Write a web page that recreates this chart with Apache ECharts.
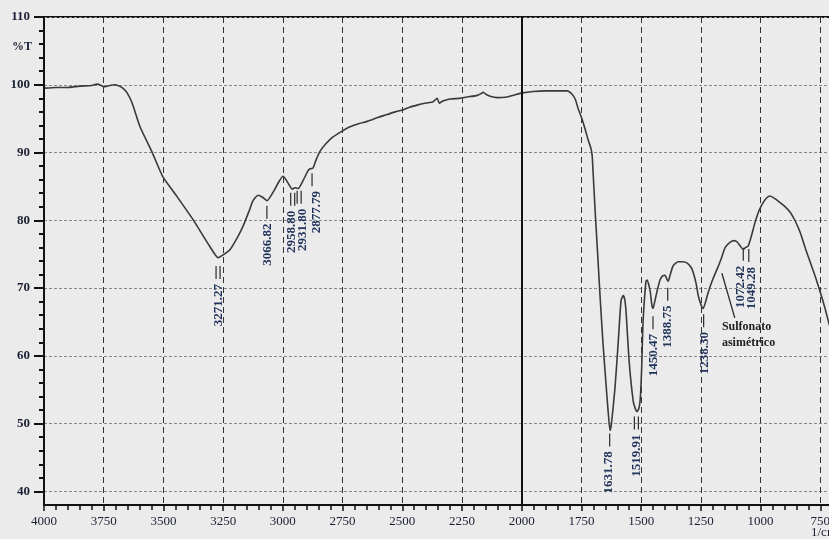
<!DOCTYPE html>
<html><head><meta charset="utf-8">
<script src="https://cdn.jsdelivr.net/npm/echarts@6/dist/echarts.min.js"></script>
<style>html,body{margin:0;padding:0;background:#ebebeb}#c{width:829px;height:539px}</style>
</head><body><div id="c"></div>
<script>
// spectrum: wavenumber (1/cm) and transmittance (%T)
var wavenumbers = [3996,3950,3900,3850,3800,3778,3760,3749,3725,3703,3685,3670,3652,3631,3598,3548,3502,3443,3376,3305,3271,3250,3221,3190,3167,3140,3125,3104,3085,3066,3040,3015,2999,2980,2961,2948,2936,2915,2895,2886,2874,2860,2844,2820,2790,2750,2719,2680,2647,2600,2564,2530,2497,2470,2438,2400,2371,2354,2345,2330,2300,2260,2229,2190,2170,2162,2150,2132,2103,2061,2030,1998,1952,1900,1850,1810,1789,1775,1764,1750,1735,1722,1710,1705,1701,1692,1684,1672,1659,1642,1635,1630,1625,1617,1609,1596,1584,1575,1568,1563,1550,1533,1522,1517,1510,1504,1498,1492,1480,1475,1468,1462,1455,1450,1443,1433,1421,1410,1400,1392,1387,1378,1366,1345,1325,1307,1290,1282,1270,1261,1250,1240,1230,1219,1200,1182,1165,1148,1127,1110,1098,1085,1073,1062,1052,1040,1023,1008,993,975,960,940,918,900,876,855,834,812,792,770,750,730,713,700];
var transmittance = [99.5,99.6,99.6,99.8,99.9,100.1,99.9,99.7,99.9,100.0,99.8,99.5,98.8,97.3,93.8,90.1,86.4,83.5,80.1,76.1,74.5,74.9,75.7,77.5,79.1,81.5,82.9,83.7,83.4,82.9,84.2,85.8,86.5,85.6,84.6,84.8,84.7,85.9,87.3,87.6,87.7,89.0,90.2,91.3,92.3,93.2,93.8,94.3,94.6,95.2,95.6,96.0,96.3,96.7,97.0,97.3,97.5,98.0,97.3,97.6,97.9,98.0,98.2,98.4,98.7,98.9,98.6,98.3,98.1,98.2,98.5,98.8,99.0,99.1,99.1,99.1,98.6,97.8,96.5,95.2,93.5,91.9,90.6,89.5,87.0,81.0,76.2,68.8,61.5,53.5,50.5,49.0,49.8,52.5,55.5,62.0,68.2,68.9,68.2,66.4,59.1,53.3,52.0,51.8,52.2,53.5,58.0,65.0,71.0,71.2,70.5,69.5,67.5,67.0,68.0,69.6,71.2,71.8,71.9,71.3,71.0,72.0,73.3,73.9,73.9,73.7,73.0,72.3,70.7,68.9,67.6,67.0,68.0,69.4,71.3,72.8,74.3,76.0,76.8,77.0,76.8,76.2,75.7,76.0,76.2,77.5,79.7,81.3,82.4,83.3,83.6,83.2,82.6,82.1,81.2,79.9,78.2,75.8,73.8,71.6,69.4,67.0,64.7,63.5];

// peak annotations
var peakLabels = ['3271.27','3066.82','2958.80','2931.80','2877.79','1631.78','1519.91','1450.47','1388.75','1238.30','1072.42','1049.28'];
var peakWn = [3271.27,3066.82,2958.80,2931.80,2877.79,1631.78,1519.91,1450.47,1388.75,1238.30,1072.42,1049.28];
var peakLabelLevel = [67.5,76.4,78.3,78.6,81.2,42.8,45.3,60.1,64.3,60.4,70.2,70.0];
var peakDouble = [1,0,1,1,0,0,1,0,0,0,0,0];
var peakTextShift = [1,1,-1,3,5,-1,0,1,0,1,-3,3];

var noteText = ['Sulfonato', 'asimétrico'];
var notePointer = [[1162,72.2],[1108,65.6]];
var noteAnchor = [1162, 64.3];

// tick values
var yMajor = [40,50,60,70,80,90,100,110];
var yMinor = [];
for (var v = 40; v <= 110; v += 2) { if (v % 10 !== 0) yMinor.push(v); }

var serif = '"Liberation Serif", "DejaVu Serif", serif';
var chart = echarts.init(document.getElementById('c'));
chart.setOption({
  backgroundColor: '#ebebeb',
  animation: false,
  grid: {left: 44, top: 17, width: 836, height: 488, outerBoundsMode: 'none', containLabel: false,
         show: true, borderColor: '#111', borderWidth: 2},
  xAxis: {
    type: 'value', min: 500, max: 4000, interval: 250, inverse: true,
    axisLine: {show: true, lineStyle: {color: '#111', width: 2}},
    axisTick: {show: true, length: 6, lineStyle: {color: '#111', width: 1.5}},
    minorTick: {show: true, splitNumber: 5, length: 5, lineStyle: {color: '#111', width: 1.5}},
    axisLabel: {fontFamily: serif, fontSize: 13, color: '#1a1f33', margin: 10,
                formatter: function (v) { return String(v); }},
    splitLine: {show: true, lineStyle: {color: '#333', width: 1, type: [6, 4]}}
  },
  yAxis: [{
    type: 'value', min: 38, max: 110,
    axisLine: {show: true, lineStyle: {color: '#111', width: 2}},
    axisTick: {show: true, length: 10, customValues: yMajor, lineStyle: {color: '#111', width: 2}},
    axisLabel: {customValues: yMajor, fontFamily: serif, fontSize: 13, fontWeight: 'bold', color: '#1a1f33', margin: 14},
    splitLine: {show: true, lineStyle: {color: '#888', width: 1, type: [3, 2]}}
  }, {
    type: 'value', min: 38, max: 110, position: 'left',
    axisLine: {show: false},
    axisTick: {show: true, length: 5, customValues: yMinor, lineStyle: {color: '#111', width: 2}},
    axisLabel: {show: false},
    splitLine: {show: false}
  }],
  graphic: [
    {type: 'text', left: 12, top: 41, style: {text: '%T', font: 'bold 12px ' + serif, fill: '#1a1f33'}},
    {type: 'text', left: 811, top: 526, style: {text: '1/cm', font: '13px ' + serif, fill: '#1a1f33'}}
  ],
  series: [{
    type: 'line',
    data: wavenumbers.map(function (w, i) { return [w, transmittance[i]]; }),
    symbol: 'none', smooth: 0.2,
    lineStyle: {color: '#3a3a3a', width: 1.6},
    markLine: {
      silent: true, symbol: 'none', label: {show: false},
      lineStyle: {color: '#111', width: 2, type: 'solid'},
      data: [{xAxis: 2000}]
    }
  }, {
    type: 'custom', clip: false,
    data: peakWn.map(function (w, i) { return [w, peakLabelLevel[i], i]; }),
    renderItem: function (params, api) {
      var p = api.coord([api.value(0), api.value(1)]);
      var i = api.value(2);
      var half = 22;
      var yb = p[1] - half - 4, yt = yb - 13;
      var children = [{
        type: 'text', x: p[0] + peakTextShift[i], y: p[1], rotation: Math.PI / 2,
        style: {text: peakLabels[i], font: 'bold 13px ' + serif, fill: '#22335a', align: 'center', verticalAlign: 'middle'}
      }];
      var xs = peakDouble[i] ? [p[0] - 2, p[0] + 2] : [p[0]];
      xs.forEach(function (x) {
        children.push({type: 'line', shape: {x1: x, y1: yt, x2: x, y2: yb}, style: {stroke: '#2a2a2a', lineWidth: 1.2}});
      });
      return {type: 'group', children: children};
    }
  }, {
    type: 'custom', clip: false,
    data: [[noteAnchor[0], noteAnchor[1]]],
    renderItem: function (params, api) {
      var a = api.coord(noteAnchor);
      var p1 = api.coord(notePointer[0]);
      var p2 = api.coord(notePointer[1]);
      return {type: 'group', children: [
        {type: 'line', shape: {x1: p1[0], y1: p1[1], x2: p2[0], y2: p2[1]}, style: {stroke: '#2a2a2a', lineWidth: 1.3}},
        {type: 'text', x: a[0], y: a[1], style: {text: noteText[0], font: 'bold 12px ' + serif, fill: '#222', align: 'left', verticalAlign: 'middle'}},
        {type: 'text', x: a[0], y: a[1] + 16, style: {text: noteText[1], font: 'bold 12px ' + serif, fill: '#222', align: 'left', verticalAlign: 'middle'}}
      ]};
    }
  }]
});
</script></body></html>
